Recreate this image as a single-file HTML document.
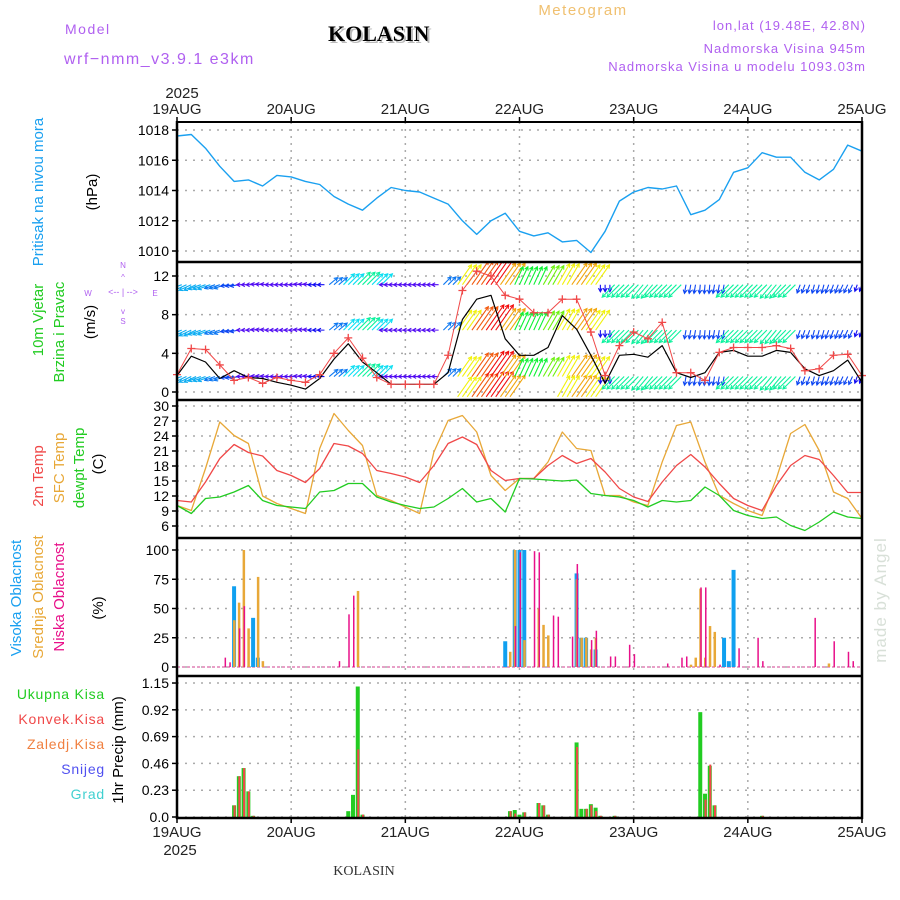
<!DOCTYPE html>
<html><head><meta charset="utf-8"><style>
html,body{margin:0;padding:0;background:#fff;}
svg{display:block;font-family:"Liberation Sans",sans-serif;}
.nar{font-family:"Liberation Sans Narrow","Liberation Sans",sans-serif;}
</style></head><body>
<svg id="chart" width="900" height="900" viewBox="0 0 900 900" xmlns="http://www.w3.org/2000/svg">
<defs><clipPath id="windclip"><rect x="177" y="263" width="685" height="136"/></clipPath></defs>
<g id="texts">
<text x="65" y="34" font-size="14" fill="#b060f0" letter-spacing="1.5">Model</text>
<text x="64" y="64" font-size="16" fill="#b060f0" letter-spacing="1.5">wrf−nmm_v3.9.1 e3km</text>
<text x="330" y="43" font-size="22" font-weight="bold" font-family="Liberation Serif,serif" fill="#bbb">KOLASIN</text>
<text x="328" y="41" font-size="22" font-weight="bold" font-family="Liberation Serif,serif" fill="#000">KOLASIN</text>
<text x="583" y="15" font-size="15" fill="#f0c070" text-anchor="middle" letter-spacing="1.5">Meteogram</text>
<text x="866" y="30" font-size="13" fill="#b060f0" text-anchor="end" letter-spacing="1">lon,lat (19.48E, 42.8N)</text>
<text x="866" y="53" font-size="13" fill="#b060f0" text-anchor="end" letter-spacing="1">Nadmorska Visina 945m</text>
<text x="866" y="71" font-size="13" fill="#b060f0" text-anchor="end" letter-spacing="1">Nadmorska Visina u modelu 1093.03m</text>
<text x="364" y="875" font-size="14" font-family="Liberation Serif,serif" fill="#333" text-anchor="middle">KOLASIN</text>
<text transform="translate(886,600) rotate(-90)" font-size="17" fill="#d8e0d8" text-anchor="middle" letter-spacing="1">made by Angel</text>
<text x="182" y="98" font-size="15" fill="#222" text-anchor="middle">2025</text>
<text x="180" y="855" font-size="15" fill="#222" text-anchor="middle">2025</text>
<g class="nar" font-size="15">
<text transform="translate(43,192) rotate(-90)" fill="#1aa0f0" text-anchor="middle">Pritisak na nivou mora</text>
<text transform="translate(97,192) rotate(-90)" fill="#000" text-anchor="middle">(hPa)</text>
<text transform="translate(43,320) rotate(-90)" fill="#22cc22" text-anchor="middle">10m Vjetar</text>
<text transform="translate(64,332) rotate(-90)" fill="#22cc22" text-anchor="middle">Brzina i Pravac</text>
<text transform="translate(95,322) rotate(-90)" fill="#000" text-anchor="middle">(m/s)</text>
<text transform="translate(43,476) rotate(-90)" fill="#f04848" text-anchor="middle">2m Temp</text>
<text transform="translate(64,468) rotate(-90)" fill="#e8a838" text-anchor="middle">SFC Temp</text>
<text transform="translate(84,468) rotate(-90)" fill="#22cc22" text-anchor="middle">dewpt Temp</text>
<text transform="translate(103,464) rotate(-90)" fill="#000" text-anchor="middle">(C)</text>
<text transform="translate(21,598) rotate(-90)" fill="#1aa0f0" text-anchor="middle">Visoka Oblacnost</text>
<text transform="translate(43,597) rotate(-90)" fill="#e8a838" text-anchor="middle">Srednja Oblacnost</text>
<text transform="translate(64,597) rotate(-90)" fill="#e8108a" text-anchor="middle">Niska Oblacnost</text>
<text transform="translate(103,608) rotate(-90)" fill="#000" text-anchor="middle">(%)</text>
<text transform="translate(123,750) rotate(-90)" fill="#000" text-anchor="middle">1hr Precip (mm)</text>
</g>
<g font-size="14" text-anchor="end" letter-spacing="0.8">
<text x="105" y="699" fill="#22cc22">Ukupna Kisa</text>
<text x="105" y="724" fill="#f04848">Konvek.Kisa</text>
<text x="105" y="749" fill="#f08040">Zaledj.Kisa</text>
<text x="105" y="774" fill="#5050f0">Snijeg</text>
<text x="105" y="799" fill="#40d0d0">Grad</text>
</g>
<g font-size="8" fill="#b060f0" text-anchor="middle">
<text x="123" y="268">N</text><text x="123" y="324">S</text><text x="88" y="296">W</text><text x="155" y="296">E</text>
<text x="123" y="295" font-size="9">&lt;-- | --&gt;</text>
<text x="123" y="280">^</text><text x="123" y="314">v</text>
</g>
</g>
<g id="grid"></g>
<g id="marks"></g>
<g id="axes"></g>
</svg>
<script>
// ---------- data (3-hourly, index 0 = 19AUG 00h) ----------
const dayLabels = ["19AUG","20AUG","21AUG","22AUG","23AUG","24AUG","25AUG"];
const pressure = [1017.6,1017.7,1016.8,1015.6,1014.6,1014.7,1014.3,1015.0,1014.9,1014.6,1014.4,1013.6,1013.1,1012.7,1013.5,1014.2,1014.0,1013.9,1013.5,1013.1,1012.0,1011.1,1012.0,1012.5,1011.3,1011.0,1011.2,1010.6,1010.7,1009.9,1011.3,1013.3,1013.9,1014.2,1014.1,1014.3,1012.4,1012.7,1013.4,1015.2,1015.5,1016.5,1016.2,1016.2,1015.2,1014.7,1015.4,1017.0,1016.6];
const windSpeed = [1.7,3.7,3.1,1.4,2.2,1.5,1.4,1.0,0.7,0.3,1.4,3.4,5.0,3.1,2.0,0.8,0.8,0.8,0.8,2.0,7.5,9.6,10.0,5.5,3.8,3.8,4.6,7.9,6.5,3.8,0.9,3.8,3.9,3.6,4.8,2.0,1.5,2.0,4.1,4.3,3.7,3.7,4.3,4.1,2.4,1.7,2.2,3.3,1.0];
const windGust = [1.8,4.5,4.4,2.8,1.2,1.5,0.9,1.5,1.2,1.0,1.8,4.0,5.6,3.5,1.5,0.8,0.8,0.8,0.8,3.8,10.5,12.5,12.0,10.0,9.6,8.2,8.2,9.6,9.6,6.2,1.7,4.8,6.2,5.5,7.2,2.0,2.0,1.2,4.1,4.6,4.6,4.6,4.8,4.5,2.2,2.4,3.8,3.9,1.7];
const windDir = [200,205,200,200,190,180,175,180,180,175,180,40,45,45,45,180,180,180,180,45,55,55,55,55,65,65,60,60,55,55,270,225,225,230,225,225,260,265,260,225,225,225,230,225,250,255,250,245,250];
const arrowSpeed = [6,6,6,5,4,2,2,2,2,2,3,5,7,8,7,2,2,2,2,5,11,13,14,12,9,9,10,11,12,11,3,8,8,8,8,8,4,4,4,8,8,8,8,8,4,4,4,4,3];
const temp2m = [11.1,10.8,14.8,19.5,22.3,20.7,20.0,17.1,16.1,14.7,17.5,22.5,22.0,20.5,17.1,16.5,15.8,14.7,18.1,22.5,23.8,22.3,17.1,15.1,15.5,15.5,18.1,20.1,18.5,19.5,16.8,13.5,11.8,10.9,14.8,18.1,20.3,17.8,14.5,11.5,10.1,9.1,14.1,18.1,20.1,19.3,16.1,12.7,12.7];
const tempSfc = [10.1,9.1,17.5,26.8,24.1,22.5,12.0,10.5,9.5,8.5,21.5,28.5,25.1,22.1,12.1,11.1,9.8,8.5,20.8,27.1,28.1,24.8,16.1,13.1,15.5,15.5,18.8,24.8,21.5,21.1,12.1,12.1,10.8,10.1,18.8,26.1,26.8,18.8,12.1,10.5,9.1,8.1,15.5,24.5,26.3,21.1,12.8,11.5,7.5];
const dewpt = [10.1,8.5,11.5,11.8,12.8,14.1,11.1,10.1,9.8,9.5,12.8,13.1,14.5,14.5,11.8,10.8,10.1,9.5,9.8,11.5,13.5,10.8,11.5,8.8,15.5,15.4,15.2,15.0,15.2,12.5,12.1,11.8,11.1,9.8,11.1,10.8,11.1,13.8,12.1,9.1,8.1,7.5,7.8,6.1,5.1,6.8,8.8,7.8,7.5];
// cloud cover bars (hour, percent)
const highHours = [12,16,17,69,71,72,73,84,85,86,88,115,116,117];
const highVals = [69,42,8,22,100,100,100,80,25,25,15,25,5,83];
const midHours = [12,13,14,15,17,18,38,70,71,73,76,77,78,84,85,86,87,88,108,109,110,111,112,113,137];
const midVals = [40,55,100,33,77,5,65,13,100,23,50,36,27,75,25,25,15,25,2,8,67,8,35,30,3];
const lowHours = [10,11,13,14,34,36,37,71,72,75,76,79,80,83,84,87,88,91,92,95,96,103,106,107,110,111,114,118,122,123,134,138,141,142];
const lowVals = [8,4,33,52,5,45,61,35,98,99,98,44,43,26,88,23,31,9,9,19,11,3,8,9,68,68,2,16,25,5,42,22,13,5];
// precipitation (hour, total mm, convective mm)
const precipHours = [12,13,14,15,16,36,37,38,39,70,71,72,73,76,77,78,84,85,86,87,88,89,92,110,111,112,113,123];
const precipTotal = [0.10,0.35,0.42,0.22,0.01,0.05,0.19,1.12,0.02,0.05,0.06,0.02,0.04,0.12,0.10,0.02,0.64,0.07,0.07,0.11,0.08,0.01,0.01,0.90,0.20,0.44,0.10,0.01];
const precipConv = [0.10,0.35,0.42,0.22,0.01,0.00,0.00,0.58,0.02,0.05,0.03,0.00,0.04,0.12,0.10,0.02,0.60,0.00,0.07,0.10,0.05,0.01,0.01,0.00,0.15,0.45,0.10,0.01];
const pressTicks = [1010,1012,1014,1016,1018];
const windTicks = [0,4,8,12];
const tempTicks = [6,9,12,15,18,21,24,27,30];
const cloudTicks = [0,25,50,75,100];
const precipTicks = [0,0.23,0.46,0.69,0.92,1.15];

// ---------- scales ----------
const X0=177, X1=862, HOURS=144;
const xh = h => X0 + h*(X1-X0)/HOURS;
const xi = i => xh(i*3);
const yP = v => 251 - (v-1010)*(121/8);
const yW = v => 392 - v*(116/12);
const yT = v => 526 - (v-6)*5;
const yC = v => 667 - v*1.17;
const yR = v => 817 - v*116.5;
const NS="http://www.w3.org/2000/svg";
function mk(tag, attrs, parent){const e=document.createElementNS(NS,tag);for(const k in attrs)e.setAttribute(k,attrs[k]);parent.appendChild(e);return e;}
const grid=document.getElementById('grid'), marks=document.getElementById('marks'), axes=document.getElementById('axes');

for(let d=1; d<6; d++){
  const g=mk('line',{x1:xh(d*24),x2:xh(d*24),y1:122,y2:818,stroke:'#aaa','stroke-width':1.5,'stroke-dasharray':'2,5'},grid);
  
  
}
function hgrid(ticks, fy, name, fmt){
  ticks.forEach(t=>{
    const l=mk('line',{x1:X0,x2:X1,y1:fy(t),y2:fy(t),stroke:'#aaa','stroke-width':1.5,'stroke-dasharray':'2,6'},grid);
    
    
    mk('line',{x1:X0-5,x2:X0,y1:fy(t),y2:fy(t),stroke:'#000','stroke-width':1.5},axes);
    const tx=mk('text',{x:X0-8,y:fy(t)+5,'font-size':14,'text-anchor':'end',fill:'#000'},axes);
    tx.textContent=fmt?fmt(t):t;
    
    
  });
}
hgrid(pressTicks,yP,'pressure');
hgrid(windTicks,yW,'wind');
hgrid(tempTicks,yT,'temp');
hgrid(cloudTicks,yC,'cloud');
hgrid(precipTicks,yR,'precip',t=>t.toFixed(2).replace(/0$/,'').replace(/\.$/,''));

dayLabels.forEach((lab,d)=>{
  const x=xh(d*24);
  const t1=mk('text',{x:x,y:114,'font-size':15,'text-anchor':'middle',fill:'#222'},axes);
  t1.textContent=lab;
  
  
  const t2=mk('text',{x:x,y:837,'font-size':15,'text-anchor':'middle',fill:'#222'},axes);
  t2.textContent=lab;
  
  
  mk('line',{x1:x,x2:x,y1:117,y2:122,stroke:'#000','stroke-width':1.5},axes);
  mk('line',{x1:x,x2:x,y1:818,y2:823,stroke:'#000','stroke-width':1.5},axes);
});

[[122,2],[262,2.5],[400,2.5],[538,2.5],[676,2.5],[818,2.5]].forEach(([y,w])=>{
  const l=mk('line',{x1:X0-1,x2:X1+1,y1:y,y2:y,stroke:'#000','stroke-width':w},axes);
  
  
});
mk('line',{x1:X0,x2:X0,y1:121,y2:819,stroke:'#000','stroke-width':2.5},axes);
mk('line',{x1:X1,x2:X1,y1:121,y2:819,stroke:'#000','stroke-width':2.5},axes);

function line(vals, fy, color, name, w){
  const d=vals.map((v,i)=>(i?'L':'M')+xi(i).toFixed(1)+','+fy(v).toFixed(1)).join('');
  const p=mk('path',{d:d,fill:'none',stroke:color,'stroke-width':w||1.3,'stroke-linejoin':'round'},marks);
  
  
  return p;
}
line(pressure,yP,'#1aa0f0','pressure-line',1.4);

const windG=mk('g',{'clip-path':'url(#windclip)'},marks);


function spdColor(s){
  const stops=[[1,275],[4,225],[7,185],[9,130],[11,60],[14,0]];
  let h=275;
  for(let k=0;k<stops.length-1;k++){const [a,ha]=stops[k],[b,hb]=stops[k+1];if(s>=a&&s<=b){h=ha+(hb-ha)*(s-a)/(b-a);}}
  if(s>14)h=0;
  return 'hsl('+h.toFixed(0)+',90%,50%)';
}
const rowBase=[yW(1.6),yW(6.4),yW(11.1),yW(-0.5)];
windDir.forEach((dir,i)=>{
  const s=arrowSpeed[i], col=spdColor(s), len=Math.max(7,s*2.2);
  const a=dir*Math.PI/180;
  for(let sub=0;sub<3;sub++){
    const x0=xh(i*3+sub-1);
    rowBase.forEach((y0,r)=>{
      if(r===3 && s<11) return;
      const x1=x0+len*Math.cos(a), y1=y0-len*Math.sin(a);
      const ar=mk('path',{d:`M${x0},${y0}L${x1},${y1}M${x1-4*Math.cos(a-0.5)},${y1+4*Math.sin(a-0.5)}L${x1},${y1}L${x1-4*Math.cos(a+0.5)},${y1+4*Math.sin(a+0.5)}`,stroke:col,'stroke-width':1.1,fill:'none'},windG);
      
      
    });
  }
});
line(windSpeed,yW,'#000','wind-speed-line',1.2);
line(windGust,yW,'#f04848','wind-gust-line',1);
windGust.forEach((v,i)=>{
  const x=xi(i), y=yW(v);
  const m=mk('path',{d:`M${x-4},${y}H${x+4}M${x},${y-4}V${y+4}`,stroke:'#f04848','stroke-width':1.3},marks);
  
  
});

line(tempSfc,yT,'#e8a838','sfc-temp-line',1.3);
line(temp2m,yT,'#f04848','temp-2m-line',1.3);
line(dewpt,yT,'#22cc22','dewpoint-line',1.3);

mk('line',{x1:X0,x2:X1,y1:yC(0),y2:yC(0),stroke:'#e8a0c8','stroke-width':2,'stroke-dasharray':'3,2'},marks);
function bars(hours, vals, fy, color, w, off, name){
  hours.forEach((h,i)=>{
    const y=fy(vals[i]), y0=fy(0);
    const b=mk('rect',{x:xh(h)+off,y:y,width:w,height:Math.max(0,y0-y),fill:color},marks);
    
    
  });
}
bars(highHours,highVals,yC,'#10a0f0',4,-2,'high-cloud-bar');
bars(midHours,midVals,yC,'#e8a838',2.5,-1,'mid-cloud-bar');
bars(lowHours,lowVals,yC,'#e8108a',1.5,0,'low-cloud-bar');
bars(precipHours,precipTotal,yR,'#22cc22',4,-2,'total-precip-bar');
bars(precipHours,precipConv,yR,'#f04848',2,-0.5,'convective-precip-bar');
</script>
</body></html>
